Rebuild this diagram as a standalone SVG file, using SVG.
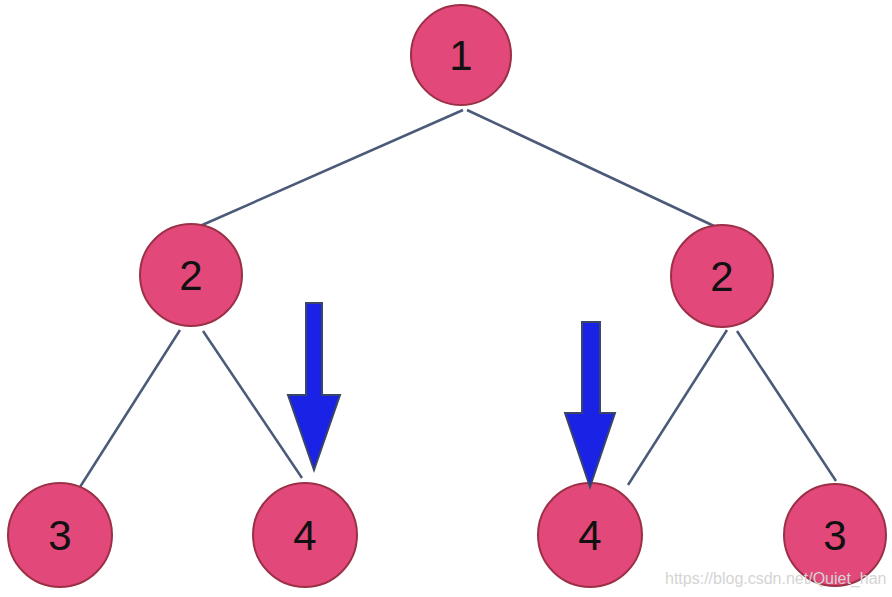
<svg xmlns="http://www.w3.org/2000/svg" width="892" height="597" viewBox="0 0 892 597">
<style>
.node circle{fill:#E2487A;stroke:#9B3046;stroke-width:2}
.node text{font-family:"Liberation Sans",Arial,sans-serif;font-size:42px;fill:#111;text-anchor:middle}
.edge{stroke:#4A5A78;stroke-width:2.5;fill:none}
.arrow{fill:#1A22E6;stroke:#3A4666;stroke-width:2;stroke-linejoin:miter}
.wm{font-family:"Liberation Sans",Arial,sans-serif;font-size:16px;fill:#D4D4D4}
</style>
<rect width="892" height="597" fill="#FFFFFF"/>
<g id="connectors">
<line class="edge" x1="463" y1="110" x2="200" y2="226"/>
<line class="edge" x1="467" y1="110" x2="714" y2="226"/>
<line class="edge" x1="180" y1="330" x2="80" y2="487"/>
<line class="edge" x1="203" y1="331" x2="302" y2="478"/>
<line class="edge" x1="727" y1="330" x2="628" y2="485"/>
<line class="edge" x1="737" y1="331" x2="836" y2="481"/>
</g>
<g id="node-1" class="node"><circle cx="461" cy="55" r="50"/><text x="461" y="70">1</text></g>
<g id="node-2a" class="node"><circle cx="191" cy="275" r="51"/><text x="191" y="290">2</text></g>
<g id="node-2b" class="node"><circle cx="722" cy="276" r="51"/><text x="722" y="291">2</text></g>
<g id="node-3a" class="node"><circle cx="60" cy="535" r="52"/><text x="60" y="550">3</text></g>
<g id="node-4a" class="node"><circle cx="305" cy="535" r="52"/><text x="305" y="550">4</text></g>
<g id="node-4b" class="node"><circle cx="590" cy="535" r="52"/><text x="590" y="550">4</text></g>
<g id="node-3b" class="node"><circle cx="835" cy="535" r="51"/><text x="835" y="550">3</text></g>
<g id="arrow-left"><polygon class="arrow" points="306,303 322,303 322,395 340,395 314,470 288,395 306,395"/></g>
<g id="arrow-right"><polygon class="arrow" points="582,322 600,322 600,413 615,413 590,487 565,413 582,413"/></g>
<text class="wm" x="665" y="584">https://blog.csdn.net/Quiet_han</text>
</svg>
